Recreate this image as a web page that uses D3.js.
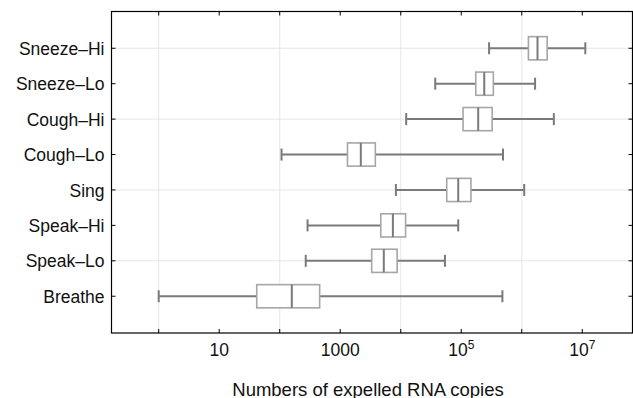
<!DOCTYPE html>
<html>
<head>
<meta charset="utf-8">
<script src="https://cdn.jsdelivr.net/npm/d3@7"></script>
<style>
  body { margin: 0; background: #fff; }
  text { font-family: "Liberation Sans", Arial, sans-serif; fill: #111; }
</style>
</head>
<body>
<svg id="chart" width="633" height="398"></svg>
<script>
// categories top to bottom
var categories = ["Sneeze\u2013Hi", "Sneeze\u2013Lo", "Cough\u2013Hi", "Cough\u2013Lo", "Sing", "Speak\u2013Hi", "Speak\u2013Lo", "Breathe"];

// box stats as log10 of RNA copies
var whiskLo = [5.46, 4.57, 4.09, 2.03, 3.92, 2.46, 2.43, 0.0];
var q1      = [6.11, 5.24, 5.03, 3.12, 4.76, 3.67, 3.52, 1.62];
var median  = [6.26, 5.38, 5.28, 3.34, 4.95, 3.87, 3.72, 2.20];
var q3      = [6.42, 5.53, 5.51, 3.58, 5.16, 4.08, 3.94, 2.66];
var whiskHi = [7.05, 6.22, 6.53, 5.69, 6.04, 4.95, 4.73, 5.68];

var tickExp = [0, 1, 2, 3, 4, 5, 6, 7];
var labelExp = [1, 3, 5, 7];

var margin = {left: 111.5, right: 0.5, top: 11.5, bottom: 65};
var width = 633, height = 398;

var svg = d3.select("#chart");

var x = d3.scaleLog()
    .domain([Math.pow(10, -0.78), Math.pow(10, 7.83)])
    .range([margin.left, width - margin.right]);

var y = d3.scaleBand()
    .domain(categories)
    .range([margin.top, height - margin.bottom])
    .paddingInner(0.345)
    .paddingOuter(0.71);

var plotTop = margin.top, plotBottom = height - margin.bottom;
var bh = y.bandwidth();
var rowY = function(c) { return y(c) + bh / 2; };

// grid lines (every other decade, every other category)
svg.append("g").selectAll("line")
    .data(tickExp.filter(function(e) { return e % 2 === 0; }))
    .enter().append("line")
    .attr("x1", function(e) { return x(Math.pow(10, e)); })
    .attr("x2", function(e) { return x(Math.pow(10, e)); })
    .attr("y1", plotTop).attr("y2", plotBottom)
    .attr("stroke", "#e6e6e6").attr("stroke-width", 1);

svg.append("g").selectAll("line")
    .data(categories.filter(function(c, i) { return i % 2 === 0; }))
    .enter().append("line")
    .attr("x1", margin.left).attr("x2", width - margin.right)
    .attr("y1", rowY).attr("y2", rowY)
    .attr("stroke", "#e6e6e6").attr("stroke-width", 1);

// boxes
var rows = categories.map(function(c, i) {
    return {name: c, lo: whiskLo[i], q1: q1[i], med: median[i], q3: q3[i], hi: whiskHi[i]};
});
var p = function(v) { return x(Math.pow(10, v)); };
var whiskColor = "#7a7a7a", boxColor = "#a6a6a6";

var g = svg.append("g").selectAll("g")
    .data(rows)
    .enter().append("g")
    .attr("transform", function(d) { return "translate(0," + rowY(d.name) + ")"; });

g.append("line")
    .attr("x1", function(d) { return p(d.lo); })
    .attr("x2", function(d) { return p(d.q1); })
    .attr("stroke", whiskColor).attr("stroke-width", 2);
g.append("line")
    .attr("x1", function(d) { return p(d.q3); })
    .attr("x2", function(d) { return p(d.hi); })
    .attr("stroke", whiskColor).attr("stroke-width", 2);
g.append("line")
    .attr("x1", function(d) { return p(d.lo); })
    .attr("x2", function(d) { return p(d.lo); })
    .attr("y1", -6).attr("y2", 6)
    .attr("stroke", whiskColor).attr("stroke-width", 2);
g.append("line")
    .attr("x1", function(d) { return p(d.hi); })
    .attr("x2", function(d) { return p(d.hi); })
    .attr("y1", -6).attr("y2", 6)
    .attr("stroke", whiskColor).attr("stroke-width", 2);
g.append("rect")
    .attr("x", function(d) { return p(d.q1); })
    .attr("width", function(d) { return p(d.q3) - p(d.q1); })
    .attr("y", -bh / 2).attr("height", bh)
    .attr("fill", "#fff").attr("stroke", boxColor).attr("stroke-width", 1.6);
g.append("line")
    .attr("x1", function(d) { return p(d.med); })
    .attr("x2", function(d) { return p(d.med); })
    .attr("y1", -bh / 2).attr("y2", bh / 2)
    .attr("stroke", whiskColor).attr("stroke-width", 2);

// frame
svg.append("rect")
    .attr("x", margin.left).attr("y", plotTop)
    .attr("width", width - margin.right - margin.left)
    .attr("height", plotBottom - plotTop)
    .attr("fill", "none").attr("stroke", "#000").attr("stroke-width", 1.2);

// x ticks, bottom and top, pointing inward
var ticks = svg.append("g");
tickExp.forEach(function(e) {
    var xx = x(Math.pow(10, e));
    ticks.append("line").attr("x1", xx).attr("x2", xx).attr("y1", plotBottom).attr("y2", plotBottom - 4)
        .attr("stroke", "#000").attr("stroke-width", 1);
    ticks.append("line").attr("x1", xx).attr("x2", xx).attr("y1", plotTop).attr("y2", plotTop + 4)
        .attr("stroke", "#000").attr("stroke-width", 1);
});

// y ticks left and right
categories.forEach(function(c) {
    var yy = rowY(c);
    ticks.append("line").attr("x1", margin.left).attr("x2", margin.left + 4).attr("y1", yy).attr("y2", yy)
        .attr("stroke", "#000");
    ticks.append("line").attr("x1", width - margin.right).attr("x2", width - margin.right - 4).attr("y1", yy).attr("y2", yy)
        .attr("stroke", "#000");
});

// x tick labels
labelExp.forEach(function(e) {
    var t = svg.append("text")
        .attr("x", x(Math.pow(10, e)))
        .attr("y", plotBottom + 22.5)
        .attr("text-anchor", "middle")
        .style("font-size", "17.5px");
    if (e < 5) {
        t.text(d3.format("d")(Math.pow(10, e)));
    } else {
        t.append("tspan").text("10");
        t.append("tspan").attr("dy", -7).style("font-size", "12px").text(e);
    }
});

// category labels
svg.append("g").selectAll("text")
    .data(categories)
    .enter().append("text")
    .attr("x", margin.left - 7)
    .attr("y", rowY)
    .attr("dy", "0.38em")
    .attr("text-anchor", "end")
    .style("font-size", "17.5px")
    .text(function(c) { return c; });

// axis title
svg.append("text")
    .attr("x", 368)
    .attr("y", 395.5)
    .attr("text-anchor", "middle")
    .style("font-size", "18.5px")
    .text("Numbers of expelled RNA copies");
</script>
</body>
</html>
